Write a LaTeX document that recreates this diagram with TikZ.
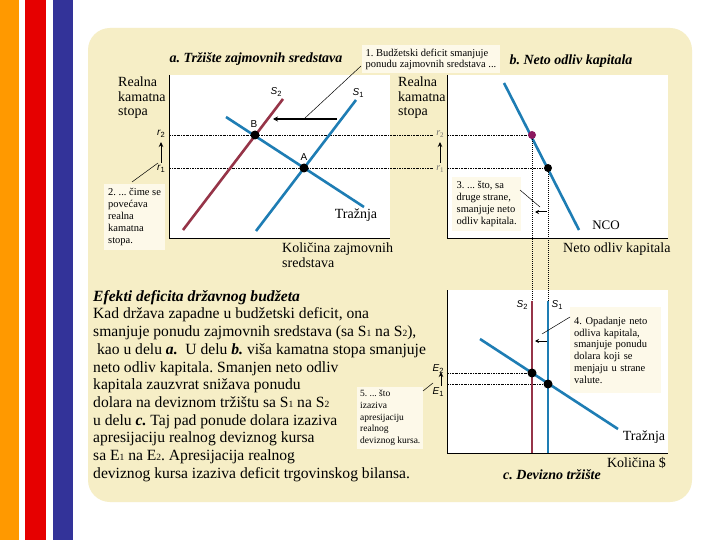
\documentclass[tikz,border=0pt]{standalone}
\usepackage{fontspec}
\setmainfont{Liberation Serif}
\setsansfont{Liberation Sans}
\usetikzlibrary{arrows.meta}
\definecolor{beige}{RGB}{246,238,198}
\definecolor{cream}{RGB}{253,249,233}
\definecolor{sblue}{RGB}{30,125,180}
\definecolor{sred}{RGB}{150,52,72}
\definecolor{orng}{RGB}{255,153,0}
\definecolor{rdst}{RGB}{230,0,0}
\definecolor{blst}{RGB}{51,51,153}
\definecolor{ptc}{RGB}{140,25,95}
\definecolor{graytx}{RGB}{110,110,110}
\frenchspacing
\newcommand\smd[1]{{\fontsize{9.5}{9.5}\selectfont #1}}
\newcommand\slab[2]{{\sffamily\fontsize{10}{10}\selectfont\textit{#1}\raisebox{-2pt}{\fontsize{7.5}{7.5}\selectfont #2}}}
\tikzset{
  curveb/.style={sblue,line width=2.6pt},
  curver/.style={sred,line width=2.6pt},
  axisl/.style={black,line width=1pt},
  dashl/.style={black,line width=0.6pt,dash pattern=on 2pt off 1pt on 0.6pt off 1pt},
  dotl/.style={black,line width=0.6pt,dash pattern=on 1pt off 1pt},
  eqpt/.style={circle,fill=black,inner sep=0pt,minimum size=9pt},
  annot/.style={fill=cream,anchor=north west,align=left,inner sep=4pt,font=\fontsize{10}{11.8}\selectfont},
  lead/.style={black,line width=0.5pt},
  shiftarr/.style={black,line width=1.2pt,-{Stealth[length=5pt,width=5pt]}},
  uparr/.style={black,line width=1pt,-{Stealth[length=5pt,width=4.5pt]}},
  axlab/.style={font=\fontsize{14}{14.5}\selectfont,align=left},
  ttl/.style={font=\fontsize{14}{14}\selectfont\bfseries\itshape},
}
\begin{document}
\begin{tikzpicture}[x=1pt,y=-1pt]
\useasboundingbox (0,0) rectangle (720,540);
\fill[white] (0,0) rectangle (720,540);
% stripes
\fill[orng] (0,0) rectangle (19,540);
\fill[rdst] (25,0) rectangle (46,540);
\fill[blst] (53,0) rectangle (73,540);
% panel
\fill[beige,rounded corners=22pt] (88,28) rectangle (692,502);
% plot areas
\fill[white] (169,75) rectangle (390,238);
\fill[white] (447,75) rectangle (668,238);
\fill[white] (447,290) rectangle (668,453);
\draw[axisl] (169,75) -- (169,238) -- (390,238);
\draw[axisl] (447,75) -- (447,238) -- (668,238);
\draw[axisl] (447,290) -- (447,453) -- (668,453);

% titles
\node[ttl] (ta) at (256,59) {a. Tržište zajmovnih sredstava};
\node[ttl] (tb) at (571,61) {b. Neto odliv kapitala};
\node[ttl] (tc) at (552,475) {c. Devizno tržište};

% axis labels
\node[axlab,anchor=north west,inner sep=0pt] (ya) at (118,77) {Realna\\kamatna\\stopa};
\node[axlab,anchor=north west,inner sep=0pt] (yb) at (398,77) {Realna\\kamatna\\stopa};
\node[axlab,anchor=north west,inner sep=0pt] (xa) at (282,243) {Količina zajmovnih\\sredstava};
\node[axlab,anchor=north west,inner sep=0pt] (xb) at (563,243) {Neto odliv kapitala};
\node[axlab,anchor=east,inner sep=0pt] (xc) at (666,463) {Količina \$};

% ---------- panel a ----------
\coordinate (s2a0) at (183,230); \coordinate (s2a1) at (283,99);
\coordinate (s1a0) at (256,231); \coordinate (s1a1) at (356,100);
\coordinate (da0) at (226,117); \coordinate (da1) at (364,207);
\draw[dashl] (169,135) -- (434,135);
\draw[dashl] (169,168) -- (434,168);
\draw[dashl] (447,135) -- (532,135);
\draw[dashl] (447,168) -- (548,168);
\draw[curveb] (da0) -- (da1);
\draw[curver] (s2a0) -- (s2a1);
\draw[curveb] (s1a0) -- (s1a1);
\node[eqpt] (B) at (255,135) {};
\node[eqpt] (A) at (304,168) {};
\node[font=\sffamily\fontsize{10}{10}\selectfont] (Bl) at (254,124) {B};
\node[font=\sffamily\fontsize{10}{10}\selectfont] (Al) at (304,157) {A};
\node (S2a) at (276,92) {\slab{S}{2}};
\node (S1a) at (358,93) {\slab{S}{1}};
\node[axlab] (Ta) at (356,215) {Tražnja};
\node (r2a) at (161,134) {\slab{r}{2}};
\node (r1a) at (161,169) {\slab{r}{1}};
\draw[uparr] (161,163) -- (161,142);
\coordinate (arA0) at (337,119); \coordinate (arA1) at (273,119);
\draw[shiftarr] (arA0) -- (arA1);

% ---------- panel b ----------
\coordinate (nco0) at (504,83); \coordinate (nco1) at (579,230);
\draw[curveb] (nco0) -- (nco1);
\node[circle,fill=ptc,inner sep=0pt,minimum size=8pt] (Pb2) at (532,135) {};
\node[eqpt,minimum size=8pt] (Pb1) at (548,168) {};
\node[font=\fontsize{13}{13}\selectfont] (nco) at (606,225) {NCO};
\node[text=graytx,font=\fontsize{10}{10}\selectfont] (r2b) at (440,134) {\textit{r}\raisebox{-2pt}{\fontsize{7}{7}\selectfont 2}};
\node[text=graytx,font=\fontsize{10}{10}\selectfont] (r1b) at (440,169) {\textit{r}\raisebox{-2pt}{\fontsize{7}{7}\selectfont 1}};
\draw[uparr,line width=0.9pt] (440,163) -- (440,142);

% vertical links
\draw[dotl] (Pb2) -- (532,301);
\draw[dotl] (Pb1) -- (548,301);

% ---------- panel c ----------
\coordinate (s2c0) at (532,301); \coordinate (s2c1) at (532,453);
\coordinate (s1c0) at (548,301); \coordinate (s1c1) at (548,453);
\coordinate (dc0) at (480,339); \coordinate (dc1) at (618,429);
\draw[dashl] (447,373) -- (532,373);
\draw[dashl] (447,384) -- (548,384);
\draw[curveb] (dc0) -- (dc1);
\draw[sred,line width=2pt] (s2c0) -- (s2c1);
\draw[sblue,line width=2pt] (s1c0) -- (s1c1);
\node[eqpt] (E2p) at (532,373) {};
\node[eqpt] (E1p) at (548,384) {};
\node (S2c) at (522,305) {\slab{S}{2}};
\node (S1c) at (557,305) {\slab{S}{1}};
\node[axlab] (Tc) at (644,437) {Tražnja};
\node (E2l) at (438,369) {\slab{E}{2}};
\node (E1l) at (438,392) {\slab{E}{1}};
\draw[uparr,line width=0.9pt] (441,386) -- (441,372);

% ---------- annotations ----------
\node[annot,font=\fontsize{10.5}{11.5}\selectfont,inner sep=3.5pt] (n1) at (362,45) {1. Budžetski deficit smanjuje\\ponudu zajmovnih sredstava ...};
\draw[lead] (361,66) -- (305,118);

\node[annot,minimum width=58pt,font=\fontsize{10.5}{12}\selectfont] (n2) at (104,184) {2. ... čime se\\povećava\\realna\\kamatna\\stopa.};
\draw[lead] (132,182) -- (158,163);

\node[annot,minimum width=69pt,font=\fontsize{10.5}{12}\selectfont] (n3) at (452,177) {3. ... što, sa\\druge strane,\\smanjuje neto\\odliv kapitala.};
\draw[lead] (520,190) -- (540,207);
\draw[shiftarr,line width=1pt,-{Stealth[length=4pt,width=4pt]}] (547,212) -- (535,212);

\node[annot,text width=83pt,minimum height=86pt,font=\fontsize{10.5}{11.8}\selectfont] (n4) at (570,307) {4. Opadanje neto\\odliva kapitala,\\smanjuje ponudu\\dolara koji se\\menjaju u strane\\valute.};
\draw[lead] (570,317) -- (542,334);
\draw[shiftarr,line width=1pt,-{Stealth[length=4pt,width=4pt]}] (547,341) -- (535,341);

\node[annot,inner sep=3pt,font=\fontsize{9.5}{11.7}\selectfont] (n5) at (357,387) {5. ... što\\izaziva\\apresijaciju\\realnog\\deviznog kursa.};
\draw[lead] (423,391) -- (433,383);

% ---------- text block ----------
\node[anchor=north west,inner sep=0pt,align=left,font=\fontsize{15.6}{17.7}\selectfont] (txt) at (93,290) {%
\textbf{\textit{Efekti deficita državnog budžeta}}\\
Kad država zapadne u budžetski deficit, ona\\
smanjuje ponudu zajmovnih sredstava (sa S\smd{1} na S\smd{2}),\\
\ kao u delu \textbf{\textit{a.}}\ \ U delu \textbf{\textit{b.}} viša kamatna stopa smanjuje\\
neto odliv kapitala. Smanjen neto odliv\\
kapitala zauzvrat snižava ponudu\\
dolara na deviznom tržištu sa S\smd{1} na S\smd{2}\\
u delu \textbf{\textit{c.}} Taj pad ponude dolara izaziva\\
apresijaciju realnog deviznog kursa\\
sa E\smd{1} na E\smd{2}. Apresijacija realnog\\
deviznog kursa izaziva deficit trgovinskog bilansa.};
\end{tikzpicture}
\end{document}
